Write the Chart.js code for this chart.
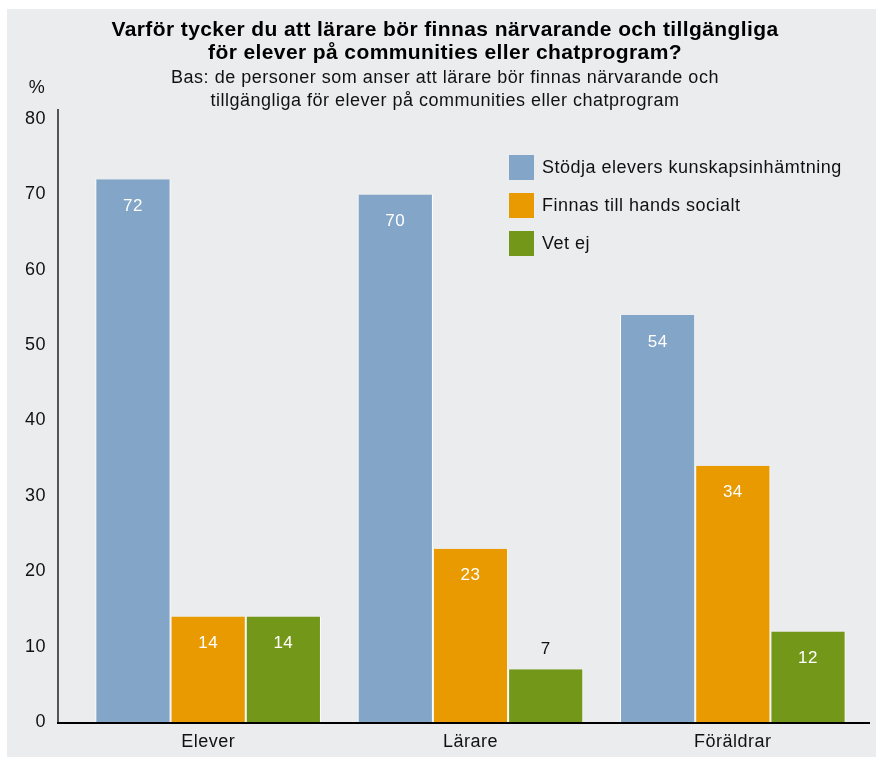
<!DOCTYPE html>
<html>
<head>
<meta charset="utf-8">
<script src="https://cdn.jsdelivr.net/npm/chart.js@4.4.1/dist/chart.umd.min.js"></script>
<style>
  html, body { margin: 0; padding: 0; background: #fff; }
  #wrap { width: 876px; height: 757px; }
</style>
</head>
<body>
<div id="wrap"><canvas id="myBarChart" width="876" height="757"></canvas></div>
<script>
// data
const categories = ['Elever', 'Lärare', 'Föräldrar'];
const seriesNames = ['Stödja elevers kunskapsinhämtning', 'Finnas till hands socialt', 'Vet ej'];
const stodja = [72, 70, 54];
const socialt = [14, 23, 34];
const vetEj = [14, 7, 12];
const yTicks = [0, 10, 20, 30, 40, 50, 60, 70, 80];

const titleLines = ['Varför tycker du att lärare bör finnas närvarande och tillgängliga', 'för elever på communities eller chatprogram?'];
const subLines = ['Bas: de personer som anser att lärare bör finnas närvarande och', 'tillgängliga för elever på communities eller chatprogram'];

const colors = ['#82a5c8', '#e89a00', '#739819'];
const FONT = '"Liberation Sans", Arial, sans-serif';

// background panel, titles, axis lines, legend and value labels
const decorPlugin = {
    id: 'decor',
    beforeDraw(chart) {
        const c = chart.ctx;
        c.save();
        c.fillStyle = '#ebeced';
        c.fillRect(7, 9, chart.width - 7, chart.height - 9);
        c.restore();
        c.letterSpacing = '0.5px'; // wider glyphs like the original, kept for the tick labels
    },
    afterDatasetsDraw(chart) {
        const c = chart.ctx;
        const area = chart.chartArea;
        const cx = 445;
        c.save();
        c.textAlign = 'center';
        c.textBaseline = 'middle';
        c.fillStyle = '#000';
        c.letterSpacing = '0.4px';
        c.font = 'bold 21px ' + FONT;
        c.fillText(titleLines[0], cx, 30);
        c.fillText(titleLines[1], cx, 53);
        c.letterSpacing = '0.5px';
        c.font = '18px ' + FONT;
        c.fillStyle = '#111';
        c.fillText(subLines[0], cx, 78);
        c.fillText(subLines[1], cx, 101);

        c.fillText('%', 37, 88);

        // axis lines
        const axisX = area.left - 19;
        c.strokeStyle = '#555';
        c.lineWidth = 2;
        c.beginPath();
        c.moveTo(axisX, area.top - 10);
        c.lineTo(axisX, area.bottom);
        c.stroke();
        c.strokeStyle = '#000';
        c.beginPath();
        c.moveTo(axisX - 1, area.bottom + 1);
        c.lineTo(area.right + 6, area.bottom + 1);
        c.stroke();

        // value labels
        c.font = '17px ' + FONT;
        chart.data.datasets.forEach((ds, i) => {
            const meta = chart.getDatasetMeta(i);
            meta.data.forEach((bar, j) => {
                const v = ds.data[j];
                if (v < 10) {
                    c.fillStyle = '#111';
                    c.fillText(v, bar.x, bar.y - 20);
                } else {
                    c.fillStyle = '#fff';
                    c.fillText(v, bar.x, bar.y + 27);
                }
            });
        });

        // legend
        c.textAlign = 'left';
        c.font = '18px ' + FONT;
        chart.data.datasets.forEach((ds, i) => {
            const y = 155 + i * 38;
            c.fillStyle = ds.backgroundColor;
            c.fillRect(509, y, 25, 25);
            c.fillStyle = '#111';
            c.fillText(ds.label, 542, y + 13);
        });
        c.restore();
    },
    afterDraw(chart) {
        chart.ctx.letterSpacing = '0px';
    }
};

const ctx = document.getElementById('myBarChart').getContext('2d');
new Chart(ctx, {
    type: 'bar',
    data: {
        labels: categories,
        datasets: [stodja, socialt, vetEj].map((d, i) => ({
            label: seriesNames[i],
            data: d,
            backgroundColor: colors[i],
            borderColor: '#ffffff',
            borderWidth: { left: 1, right: 1, top: 0, bottom: 0 },
            borderSkipped: false,
            categoryPercentage: 0.86,
            barPercentage: 1.0
        }))
    },
    options: {
        responsive: false,
        animation: false,
        layout: { padding: { top: 119, left: 0, right: 12, bottom: 0 } },
        plugins: {
            legend: { display: false },
            tooltip: { enabled: false }
        },
        scales: {
            x: {
                grid: { display: false, drawTicks: false },
                border: { display: false },
                ticks: { color: '#111', padding: 9, font: { family: FONT, size: 18 } },
                afterFit: (scale) => { scale.height = 35; }
            },
            y: {
                min: 0,
                max: 80,
                afterBuildTicks: (scale) => { scale.ticks = yTicks.map(v => ({ value: v })); },
                grid: { display: false, drawTicks: false },
                border: { display: false },
                ticks: { color: '#111', padding: 31, font: { family: FONT, size: 18 } },
                afterFit: (scale) => {
                    scale.width = 77;
                    // the big label padding would otherwise push the plot bottom up
                    scale.paddingTop = 11;
                    scale.paddingBottom = 11;
                }
            }
        }
    },
    plugins: [decorPlugin]
});
</script>
</body>
</html>
